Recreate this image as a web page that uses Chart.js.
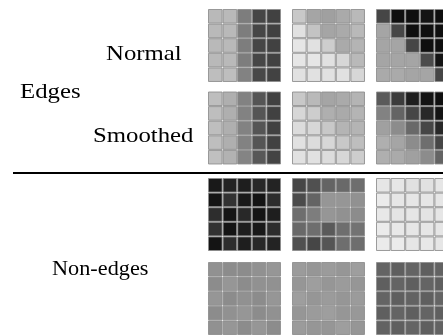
<!DOCTYPE html>
<html><head><meta charset="utf-8">
<script src="https://cdn.jsdelivr.net/npm/chart.js@4/dist/chart.umd.min.js"></script>
<style>
html,body{margin:0;padding:0;background:#fff;width:443px;height:335px;overflow:hidden;}
#wrap{position:relative;width:443px;height:335px;}
canvas{position:absolute;left:0;top:0;}
.lbl{position:absolute;font-family:"Liberation Serif","DejaVu Serif",serif;font-size:21px;line-height:1;color:#000;white-space:nowrap;transform:scaleX(1.18);transform-origin:0 0;}
#rule{position:absolute;left:13px;top:172px;width:430px;height:2px;background:#000;}
</style></head>
<body><div id="wrap">
<canvas id="c" width="443" height="335"></canvas>
<div id="rule"></div>
<div class="lbl" style="left:106px;top:43px">Normal</div>
<div class="lbl" style="left:20px;top:81px">Edges</div>
<div class="lbl" style="left:93px;top:125px">Smoothed</div>
<div class="lbl" style="left:52px;top:258px;transform:scaleX(1.06)">Non-edges</div>
</div>
<script>
// Row labels
const groupLabels = ["Edges", "Non-edges"];
const edgeRowLabels = ["Normal", "Smoothed"];

// Gray levels (0 = black, 255 = white), 5x5 patches, row by row
const edgeNormal1 = [
  [185,185,125,70,65],[185,185,125,70,65],[185,185,125,70,65],[185,185,125,70,65],[190,190,130,72,66]];
const edgeNormal2 = [
  [200,165,160,170,185],[225,195,165,170,185],[230,225,205,170,180],[230,230,225,215,185],[225,225,225,225,215]];
const edgeNormal3 = [
  [70,15,15,20,15],[165,70,15,15,15],[165,165,70,15,15],[165,165,165,75,20],[170,170,165,165,70]];
const edgeSmooth1 = [
  [190,175,130,85,65],[190,175,130,85,65],[190,175,130,85,65],[190,175,130,85,65],[192,178,132,88,68]];
const edgeSmooth2 = [
  [200,185,165,170,180],[215,205,175,170,180],[220,215,200,180,180],[225,220,215,200,190],[225,225,220,215,205]];
const edgeSmooth3 = [
  [90,60,30,20,15],[130,100,70,40,20],[160,140,105,70,40],[175,165,140,110,70],[175,170,160,140,100]];
const nonEdgeA1 = [
  [25,35,30,40,35],[20,50,25,20,45],[45,20,40,20,30],[50,20,30,25,45],[20,45,30,40,35]];
const nonEdgeA2 = [
  [70,80,100,105,110],[75,100,150,150,145],[110,125,150,145,140],[105,110,90,110,115],[80,70,85,110,110]];
const nonEdgeA3 = [
  [230,230,225,225,230],[235,230,230,230,230],[232,228,230,228,230],[235,232,230,230,230],[235,235,230,232,230]];
const nonEdgeB1 = [
  [145,140,140,145,150],[140,150,140,145,145],[150,140,145,140,150],[140,145,150,140,145],[145,150,140,150,140]];
const nonEdgeB2 = [
  [155,150,155,150,158],[150,158,150,155,150],[158,150,155,150,155],[150,155,158,150,152],[155,150,150,158,150]];
const nonEdgeB3 = [
  [100,95,100,95,98],[95,100,95,100,95],[100,95,98,95,100],[95,100,95,100,95],[98,95,100,95,98]];

const patchRows = [
  [edgeNormal1, edgeNormal2, edgeNormal3],
  [edgeSmooth1, edgeSmooth2, edgeSmooth3],
  [nonEdgeA1, nonEdgeA2, nonEdgeA3],
  [nonEdgeB1, nonEdgeB2, nonEdgeB3]
];

// layout (pixel-unit scales)
const gridLeft = [208, 292, 376];
const gridTop = [9, 91.5, 178, 262];
const pitch = 14.6;

function gray(v){ return `rgb(${v},${v},${v})`; }

const datasets = [];
patchRows.forEach((row, r) => {
  row.forEach((patch, c) => {
    const pts = [], fills = [];
    patch.forEach((line, i) => line.forEach((v, j) => {
      pts.push({x: gridLeft[c] + (j + 0.5) * pitch, y: gridTop[r] + (i + 0.5) * pitch});
      fills.push(gray(v));
    }));
    datasets.push({
      data: pts,
      pointStyle: 'rect',
      pointRadius: 9.6,
      pointHoverRadius: 9.6,
      backgroundColor: fills,
      borderColor: 'rgba(140,140,140,0.85)',
      borderWidth: 1,
      showLine: false,
      clip: false
    });
  });
});

new Chart(document.getElementById('c'), {
  type: 'scatter',
  data: { datasets },
  options: {
    responsive: false,
    devicePixelRatio: 1,
    animation: false,
    events: [],
    layout: { padding: 0, autoPadding: false },
    plugins: { legend: { display: false }, tooltip: { enabled: false } },
    scales: {
      x: { type: 'linear', min: 0, max: 443, display: false },
      y: { type: 'linear', min: 0, max: 335, reverse: true, display: false }
    }
  }
});
</script>
</body></html>
